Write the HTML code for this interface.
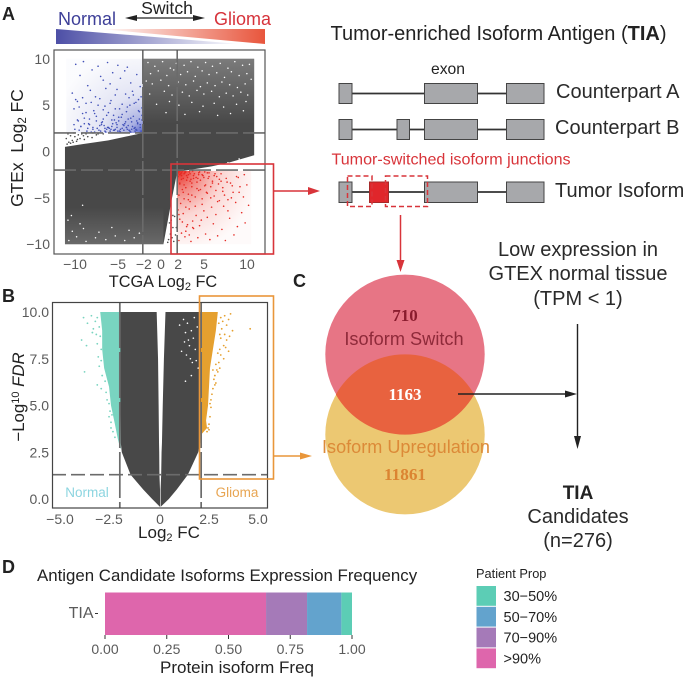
<!DOCTYPE html>
<html lang="en">
<head>
<meta charset="utf-8">
<title>Tumor-enriched Isoform Antigen figure</title>
<style>
html,body{margin:0;padding:0;background:#fff;}
body{width:685px;height:678px;overflow:hidden;}
svg{display:block;font-family:"Liberation Sans",sans-serif;}
.tick{font-size:14px;fill:#5a5a5a;}
.tl{font-size:20px;fill:#2a2a2a;}
.panel{font-size:18px;font-weight:bold;fill:#222;}
</style>
</head>
<body>
<svg id="fig" xmlns="http://www.w3.org/2000/svg" width="685" height="678" viewBox="0 0 685 678">
<defs>
<linearGradient id="gBlue" x1="0" x2="1" y1="0" y2="0"><stop offset="0" stop-color="#4d4fa6"/><stop offset="1" stop-color="#ffffff"/></linearGradient>
<linearGradient id="gRed" x1="0" x2="1" y1="0" y2="0"><stop offset="0" stop-color="#ffffff"/><stop offset="1" stop-color="#e8553c"/></linearGradient>
<radialGradient id="washBlue" cx="1" cy="1" r="1.15"><stop offset="0" stop-color="#3f4fc4" stop-opacity=".9"/><stop offset=".14" stop-color="#4f5dc4" stop-opacity=".5"/><stop offset=".45" stop-color="#6c76c8" stop-opacity=".2"/><stop offset="1" stop-color="#8088cc" stop-opacity=".03"/></radialGradient>
<radialGradient id="washRed" cx="0" cy="0" r="1.1"><stop offset="0" stop-color="#e82a22" stop-opacity="1"/><stop offset=".25" stop-color="#ea3a30" stop-opacity=".6"/><stop offset=".55" stop-color="#ee5a50" stop-opacity=".25"/><stop offset="1" stop-color="#f08078" stop-opacity=".04"/></radialGradient>
<linearGradient id="fadeTop" x1="0" x2="0" y1="0" y2="1"><stop offset="0" stop-color="#fff" stop-opacity=".28"/><stop offset="1" stop-color="#fff" stop-opacity="0"/></linearGradient>
<linearGradient id="fadeBottom" x1="0" x2="0" y1="1" y2="0"><stop offset="0" stop-color="#fff" stop-opacity=".18"/><stop offset="1" stop-color="#fff" stop-opacity="0"/></linearGradient>
</defs>

<!-- Panel A header -->
<text class="panel" x="2" y="20">A</text>
<text x="58" y="25" font-size="18" fill="#3d3f98">Normal</text>
<text x="214" y="25" font-size="18" fill="#d6333b">Glioma</text>
<text x="167" y="14" font-size="17.6" fill="#222" text-anchor="middle">Switch</text>
<g>
<line x1="130" y1="18" x2="200" y2="18" stroke="#222" stroke-width="1.2"/>
<polygon points="125,18 137,15 137,21" fill="#222"/>
<polygon points="205,18 193,15 193,21" fill="#222"/>
</g>
<polygon points="56,29 56,44 240,44" fill="url(#gBlue)"/>
<polygon points="265,29 265,44 100,29" fill="url(#gRed)"/>

<g id="panelA"></g>
<text class="panel" x="2" y="302">B</text>
<g id="panelB"></g>

<text x="163" y="287" font-size="16.3" fill="#222" text-anchor="middle">TCGA Log<tspan font-size="11" dy="3">2</tspan><tspan dy="-3"> FC</tspan></text>
<text transform="translate(23,148) rotate(-90)" font-size="17.4" fill="#222" text-anchor="middle">GTEx <tspan dx="5">Log</tspan><tspan font-size="11.5" dy="3">2</tspan><tspan dy="-3"> FC</tspan></text>
<text x="169" y="538" font-size="17" fill="#222" text-anchor="middle">Log<tspan font-size="11" dy="3">2</tspan><tspan dy="-3"> FC</tspan></text>
<text transform="translate(24,397) rotate(-90)" font-size="16.8" fill="#222" text-anchor="middle">−Log<tspan font-size="11" dy="-5">10</tspan><tspan dy="5"> </tspan><tspan font-style="italic">FDR</tspan></text>

<!-- Connectors from plots -->
<rect x="171" y="164" width="102.5" height="90" fill="none" stroke="#d8343a" stroke-width="1.6"/>
<g>
<line x1="274" y1="191" x2="310" y2="191" stroke="#d8343a" stroke-width="1.5"/>
<polygon points="320,191 308,187 308,195" fill="#d8343a"/>
</g>
<rect x="199.5" y="296" width="74" height="183" fill="none" stroke="#e9963a" stroke-width="1.6"/>
<g>
<line x1="273" y1="456" x2="302" y2="456" stroke="#e9963a" stroke-width="1.5"/>
<polygon points="312,456 300,452.5 300,459.5" fill="#e9963a"/>
</g>

<!-- Isoform diagram -->
<text x="498.5" y="40" font-size="20" fill="#222" text-anchor="middle">Tumor-enriched Isoform Antigen (<tspan font-weight="bold">TIA</tspan>)</text>
<text x="448" y="74" font-size="15.7" fill="#222" text-anchor="middle">exon</text>
<g fill="#a7a8ab" stroke="#444" stroke-width="1">
<line x1="352" y1="93.5" x2="506" y2="93.5" stroke="#333" stroke-width="1.8"/>
<rect x="339" y="83.5" width="13" height="20"/><rect x="424.5" y="83.5" width="53" height="20"/><rect x="506.5" y="83.5" width="37.5" height="20"/>
</g>
<g fill="#a7a8ab" stroke="#444" stroke-width="1">
<line x1="352" y1="129.5" x2="506" y2="129.5" stroke="#333" stroke-width="1.8"/>
<rect x="339" y="119.5" width="13" height="20"/><rect x="397" y="119.5" width="12.5" height="20"/><rect x="424.5" y="119.5" width="53" height="20"/><rect x="506.5" y="119.5" width="37.5" height="20"/>
</g>
<g fill="#a7a8ab" stroke="#444" stroke-width="1">
<line x1="352" y1="192" x2="506" y2="192" stroke="#333" stroke-width="1.8"/>
<rect x="339" y="182" width="13" height="20.5"/><rect x="424.5" y="182" width="53" height="20.5"/><rect x="506.5" y="182" width="37.5" height="20.5"/>
<rect x="369.5" y="182" width="19" height="20.5" fill="#e0262b" stroke="#a52a2a"/>
</g>
<g fill="none" stroke="#d8343a" stroke-width="1.5" stroke-dasharray="5,3">
<rect x="347.5" y="176" width="24.5" height="30.5"/>
<rect x="385.5" y="176" width="42" height="30.5"/>
</g>
<text x="331.5" y="164.5" font-size="16.1" fill="#d8343a">Tumor-switched isoform junctions</text>
<text x="556" y="98" class="tl">Counterpart A</text>
<text x="555" y="134" class="tl">Counterpart B</text>
<text x="555" y="197" class="tl">Tumor Isoform</text>
<g>
<line x1="400.5" y1="215" x2="400.5" y2="262" stroke="#d8343a" stroke-width="1.5"/>
<polygon points="400.5,272 396.5,260 404.5,260" fill="#d8343a"/>
</g>

<!-- Panel C venn -->
<text class="panel" x="293" y="287">C</text>
<g>
<circle cx="405" cy="434.7" r="79.7" fill="#ecc872"/>
<circle cx="405" cy="354.3" r="79.7" fill="#e77585"/>
<path d="M335.8 394.5 A79.7 79.7 0 0 1 474.2 394.5 A79.7 79.7 0 0 1 335.8 394.5 Z" fill="#e8623f"/>
</g>
<text x="405" y="321" font-family="Liberation Serif" font-weight="bold" font-size="17" fill="#8a1c2e" text-anchor="middle">710</text>
<text x="404" y="345" font-size="18.2" fill="#8f2a3a" text-anchor="middle">Isoform Switch</text>
<text x="405" y="400" font-family="Liberation Serif" font-weight="bold" font-size="17" fill="#fff" text-anchor="middle">1163</text>
<text x="406" y="453" font-size="18.1" fill="#dc8a38" text-anchor="middle">Isoform Upregulation</text>
<text x="405" y="480" font-family="Liberation Serif" font-weight="bold" font-size="17.2" fill="#db8432" text-anchor="middle">11861</text>

<!-- Right flow -->
<text x="578" y="256" class="tl" text-anchor="middle">Low expression in</text>
<text x="578" y="280" class="tl" text-anchor="middle">GTEX normal tissue</text>
<text x="578" y="305" class="tl" text-anchor="middle">(TPM &lt; 1)</text>
<g>
<line x1="458" y1="394" x2="572" y2="394" stroke="#222" stroke-width="1.4"/>
<polygon points="577,394 565,390.5 565,397.5" fill="#222"/>
<line x1="577.5" y1="324" x2="577.5" y2="440" stroke="#222" stroke-width="1.4"/>
<polygon points="577.5,449 574,436 581,436" fill="#222"/>
</g>
<text x="578" y="499" font-size="19" font-weight="bold" fill="#222" text-anchor="middle">TIA</text>
<text x="578" y="523" class="tl" text-anchor="middle">Candidates</text>
<text x="578" y="547" class="tl" text-anchor="middle">(n=276)</text>

<!-- Panel D -->
<text class="panel" x="2" y="573">D</text>
<text x="37" y="581" font-size="16.85" fill="#222">Antigen Candidate Isoforms Expression Frequency</text>
<g id="panelD"></g>
<text x="93.5" y="618" font-size="16" fill="#5a5a5a" text-anchor="end">TIA</text>
<text x="237" y="673" font-size="17" fill="#222" text-anchor="middle">Protein isoform Freq</text>
<text x="476" y="578" font-size="12.8" fill="#222">Patient Prop</text>
<g id="legend"></g>
</svg>

<script>
// Panel A values
const aTicksX = [-10, -5, -2, 0, 2, 5, 10];
const aTicksY = [10, 5, 0, -5, -10];
const aCutoffs = [-2, 2];
const bandX = [-11.05, -9, -6, -4, -2.01, -2, 0, 0.4, 1.0, 1.4, 2, 4, 6, 8, 10.95];
const bandTop = [0.5, 0.8, 1.2, 1.6, 2.0, 10, 10, 10, 10, 10, 10, 10, 10, 10, 10];
const bandBottom = [-10, -10, -10, -10, -10, -10, -10, -10, -7, -5, -2.2, -1.9, -1.6, -1.2, -0.4];
const blueX = [-9.8,-9.3,-8.9,-8.4,-7.9,-7.2,-6.6,-6.1,-5.5,-4.9,-10.2,-9.6,-8.1,-7.5,-6.9,-6.3,-5.8,-5.2,-4.6,-4.1,-10.0,-9.0,-8.6,-7.7,-7.0,-6.4,-5.7,-5.0,-4.4,-3.8,-9.5,-8.8,-8.2,-7.4,-6.7,-6.0,-5.4,-4.7,-4.0,-3.4,-9.9,-9.2,-8.5,-7.8,-7.1,-6.5,-5.9,-5.3,-4.5,-3.6,-8.3,-7.6,-6.8,-6.2,-5.6,-5.1,-4.3,-3.9,-3.2,-2.7,-7.3,-6.6,-5.8,-5.2,-4.8,-4.2,-3.7,-3.1,-2.8,-2.3,-6.9,-6.1,-5.5,-4.9,-4.4,-3.8,-3.3,-2.9,-2.5,-2.2,-6.3,-5.7,-5.0,-4.6,-4.1,-3.5,-3.0,-2.6,-2.4,-2.1,-9.4,-8.0,-6.4,-5.3,-4.7,-3.9,-3.4,-2.7,-2.3,-2.1,-2.2,-2.4,-2.6,-2.8,-3.0,-3.2,-3.4,-3.6,-3.8,-4.0,-2.1,-2.3,-2.5,-2.7,-2.9,-3.1,-3.3,-3.5,-3.7,-3.9,-4.2,-4.4,-4.6,-4.8,-5.0,-5.2,-5.4,-5.6,-5.8,-6.0,-6.2,-6.4,-6.6,-6.8,-7.0,-7.2,-7.4,-7.6,-7.8,-8.0,-8.2,-8.4,-8.6,-8.8,-9.0,-9.2,-9.4,-9.6,-9.8,-10.0];
const blueY = [9.4,8.2,9.7,7.1,8.8,9.2,7.7,9.6,8.5,9.3,6.3,5.4,6.6,5.9,8.1,6.8,7.3,6.1,7.9,8.7,4.6,4.1,5.2,4.4,5.7,4.9,5.5,6.7,5.1,9.1,3.3,3.6,2.9,3.8,3.2,4.2,3.9,4.6,6.2,7.4,2.4,2.7,2.2,2.6,2.3,2.8,2.5,3.4,3.7,5.8,3.0,2.1,2.9,2.4,2.7,3.1,2.9,4.3,6.5,8.3,2.5,3.5,2.2,2.4,3.3,2.3,2.8,3.8,5.3,7.0,2.2,2.6,3.0,2.2,2.5,2.4,3.2,2.6,4.4,5.9,2.1,2.4,2.6,2.1,3.0,2.2,2.5,3.0,3.5,4.7,2.3,2.1,2.2,2.3,2.2,2.6,2.1,2.3,2.9,3.4,2.2,4.3,3.1,2.4,5.2,2.7,3.6,2.3,4.8,3.2,3.9,2.6,5.6,3.3,2.2,6.1,2.4,5.0,3.5,2.6,2.8,4.0,2.4,3.7,2.9,4.6,2.3,3.4,5.2,2.6,3.9,2.5,4.5,3.1,2.8,5.0,3.3,4.1,2.4,5.3,3.5,2.5,4.2,3.0,5.8,2.7,4.8,3.4,5.6,2.9];
const redX = [2.2,2.5,2.9,3.2,3.6,3.9,4.4,4.8,5.3,5.8,6.2,6.7,7.2,7.6,8.1,8.6,9.0,9.5,9.9,10.3,2.3,2.7,3.1,3.4,3.8,4.2,4.6,5.1,5.5,6.0,6.5,6.9,7.4,7.9,8.3,8.8,9.2,9.7,10.1,2.1,2.4,2.8,3.0,3.5,3.7,4.1,4.5,4.9,5.4,5.9,6.3,6.8,7.3,7.8,8.4,9.1,2.2,2.6,3.0,3.3,3.7,4.3,4.7,5.2,5.6,6.1,6.6,7.1,2.3,2.5,2.8,3.2,3.5,3.9,4.4,4.9,5.7,2.1,2.4,2.7,2.9,3.1,3.4,3.6,4.0,4.2,4.6,5.0,5.5,6.4,2.2,2.3,2.5,2.6,2.8,3.0,3.3,3.8,4.5,5.2,2.1,2.3,2.5,2.7,2.9,3.1,3.3,3.5,3.7,3.9,4.1,4.3,4.5,4.7,4.9,5.1,5.3,5.5,5.7,5.9,6.1,6.3,6.5,6.7,6.9,7.1,7.3,7.5,7.7,7.9,8.2,8.5,8.9,9.3,9.8,2.2,2.6,3.0,3.4,3.8];
const redY = [-9.6,-8.8,-9.2,-7.9,-9.7,-8.3,-9.3,-7.4,-8.9,-9.5,-7.8,-9.1,-8.4,-9.6,-7.2,-9.0,-8.1,-6.6,-7.7,-5.8,-7.3,-6.7,-8.1,-6.2,-7.5,-6.9,-8.0,-6.4,-7.1,-6.0,-6.8,-5.3,-5.9,-6.4,-5.0,-5.5,-4.4,-4.9,-3.6,-6.3,-5.6,-5.1,-6.0,-5.4,-4.7,-5.9,-4.2,-5.1,-4.4,-3.8,-4.8,-3.5,-4.3,-3.3,-3.7,-2.8,-4.7,-4.1,-3.9,-4.6,-3.4,-4.0,-3.1,-3.7,-2.9,-3.4,-2.7,-3.2,-3.4,-3.0,-3.6,-2.8,-3.2,-2.6,-2.9,-2.5,-2.7,-2.7,-2.4,-2.9,-2.3,-2.6,-2.2,-3.0,-2.4,-2.8,-2.2,-2.6,-2.3,-2.4,-2.2,-2.5,-2.3,-2.1,-2.4,-2.2,-2.5,-2.1,-2.3,-2.2,-2.3,-3.5,-2.6,-4.4,-2.2,-3.1,-5.2,-2.4,-3.8,-2.9,-4.9,-3.3,-2.5,-4.1,-5.7,-2.8,-3.6,-4.5,-2.3,-5.0,-3.2,-2.6,-4.2,-5.4,-3.0,-2.4,-3.9,-4.7,-2.9,-5.2,-3.4,-4.4,-2.7,-3.8,-2.5,-6.8,-7.6,-8.6,-9.0,-8.2];
const speckAX = [-1.4,-0.6,0.3,1.2,1.9,2.8,3.6,4.4,5.3,6.1,7.0,7.9,8.7,9.6,10.4,-1.1,-0.2,0.8,1.6,2.4,3.2,4.1,4.9,5.7,6.6,7.5,8.3,9.2,10.1,-1.6,-0.9,0.1,1.0,2.1,3.0,3.9,4.7,5.5,6.4,7.2,8.1,9.0,9.9,10.6,-1.2,0.5,1.4,2.6,3.4,4.3,5.1,6.0,6.9,7.7,8.5,9.4,10.2,-0.4,1.1,2.2,3.7,5.0,6.3,7.4,8.9,10.0,0.7,2.9,4.6,6.7,8.2,9.7,-10.6,-9.7,-8.6,-7.5,-6.3,-5.2,-4.1,-3.0,-10.2,-8.9,-7.1,-5.6,-3.6,-2.4,-10.7,-9.3,-10.3,-9.0,-10.8,-9.6,8.8,9.6,10.2,10.6,7.9,9.2];
const speckAY = [9.6,9.2,9.7,9.0,9.5,9.3,9.7,9.1,9.6,9.2,9.5,9.0,9.7,9.3,9.4,8.4,8.7,8.2,8.8,8.3,8.6,8.1,8.7,8.3,8.5,8.0,8.6,8.2,8.4,7.6,7.3,7.7,7.1,7.5,7.2,7.6,7.0,7.4,7.1,7.5,7.2,6.9,7.3,7.8,6.2,6.5,6.1,6.4,6.0,6.6,6.2,6.5,5.9,6.3,6.0,6.4,6.1,5.1,5.4,5.0,5.3,4.9,5.2,4.8,5.1,5.4,4.2,4.0,4.3,3.9,4.1,4.4,-9.6,-9.2,-9.7,-9.3,-9.5,-9.1,-9.6,-9.3,-8.6,-8.3,-8.7,-8.2,-8.5,-8.8,-7.4,-7.8,-6.9,-5.8,1.2,1.4,-1.4,-1.0,-0.9,-1.3,-1.2,-0.8];
const grayAX = [-10.6,-10.2,-9.7,-9.3,-8.8,-8.4,-7.9,-7.4,-10.9,-10.4,-9.9,-9.1,-8.6,-7.8,-7.2,-6.6,-10.7,-10.0,-9.5,-8.9,-10.4,-10.1,-9.6,-10.8,1.3,1.5,1.2,1.7,1.0,1.4,1.8,1.1,1.6,0.9,1.9,1.5];
const grayAY = [1.0,1.2,1.1,1.4,1.3,1.6,1.5,1.8,1.4,1.7,1.6,1.9,1.9,2.0,1.9,1.9,1.9,2.0,1.8,1.7,0.9,1.0,1.3,0.8,-7.4,-8.2,-8.9,-7.0,-9.5,-9.3,-9.0,-7.7,-9.7,-9.8,-8.2,-6.9];

// Panel B values
const bTicksX = [-5, -2.5, 0, 2.5, 5];
const bTickLabelsX = ['−5.0', '−2.5', '0', '2.5', '5.0'];
const bTicksY = [10, 7.5, 5, 2.5, 0];
const bTickLabelsY = ['10.0', '7.5', '5.0', '2.5', '0.0'];
const fdrCutoff = 1.3;
const fcCutoffs = [-2.05, 2.1];
const volcanoY = [10, 7.5, 5, 3, 2.5, 1.3, 0.5, 0, -0.42];
const volcanoLeft = [-2.02, -2.02, -2.02, -2.0, -1.95, -1.5, -0.85, -0.4, 0];
const volcanoRight = [2.08, 2.08, 2.08, 2.05, 1.95, 1.42, 0.85, 0.45, 0.03];
const volcanoInnerLeft = [-0.17, -0.1, -0.07, -0.05, -0.04, -0.03, 0, 0, 0];
const volcanoInnerRight = [0.28, 0.2, 0.14, 0.1, 0.08, 0.06, 0.03, 0.03, 0.03];
const tealEdgeY = [10, 9, 8, 7, 6, 5, 4, 3.2, 2.7];
const tealEdgeX = [-3.05, -2.95, -2.95, -2.85, -2.6, -2.5, -2.3, -2.15, -2.03];
const orangeEdgeY = [10, 9, 8, 7, 6, 5, 4.2, 3.8, 3.5];
const orangeEdgeX = [2.95, 2.85, 2.7, 2.55, 2.5, 2.45, 2.35, 2.4, 2.15];
const tealX = [-3.9,-3.7,-3.5,-3.4,-3.3,-3.25,-3.2,-3.1,-4.0,-3.75,-3.45,-3.2,-3.05,-3.0,-3.85,-3.15,-3.1,-3.0,-2.95,-3.2,-3.0,-2.8,-2.75,-2.7,-2.6,-2.6,-2.55,-2.5,-2.5,-2.45,-2.4,-2.3];
const tealY = [9.7,9.4,9.8,9.1,9.5,8.8,9.7,9.2,8.5,8.2,8.9,8.3,8.7,8.0,6.8,7.6,7.1,7.4,6.6,6.1,5.9,6.3,5.7,5.3,5.1,4.4,4.7,4.1,3.8,4.5,3.6,3.3];
const orangeX = [3.6,3.5,3.4,3.3,3.2,3.15,3.1,3.05,3.0,3.7,3.55,3.4,3.3,3.25,3.1,3.05,3.5,3.35,3.25,3.1,3.0,2.95,2.9,2.85,2.8,2.8,2.75,2.7,2.7,2.65,2.6,2.6,2.55,2.55,2.5,2.5,4.6,3.05,2.95,2.85,2.4,2.45];
const orangeY = [9.9,9.6,9.3,9.8,9.5,9.1,9.7,8.8,9.4,9.0,8.7,8.5,8.8,8.2,8.6,8.0,7.9,8.1,7.5,7.7,7.3,7.8,6.9,7.2,6.6,6.1,6.4,5.9,6.9,5.6,5.3,4.9,5.1,4.4,4.0,3.7,9.1,7.0,6.8,6.2,3.6,3.8];
const speckBX = [1.0,1.2,1.3,1.4,1.5,1.6,1.7,1.75,1.8,1.9,1.1,1.35,1.55,1.65,1.45,1.25,1.85,1.95,1.6,1.3];
const speckBY = [9.3,9.6,8.9,9.4,8.2,9.0,8.6,9.7,8.0,9.2,7.9,7.7,7.5,7.3,8.5,8.4,7.4,7.0,6.6,6.3];

// Panel D values
const freqSegments = ['>90%', '70-90%', '50-70%', '30-50%'];
const freqValues = [0.652, 0.166, 0.139, 0.043];
const freqTicks = [0, 0.25, 0.5, 0.75, 1];
const freqTickLabels = ['0.00', '0.25', '0.50', '0.75', '1.00'];
const legendLabels = ['30−50%', '50−70%', '70−90%', '>90%'];

// Styling lookups
const segmentColors = ['#de66ac', '#a57ab8', '#63a3cd', '#5ccdb5'];
const legendColors = ['#5ccdb5', '#63a3cd', '#a57ab8', '#de66ac'];

const NS = 'http://www.w3.org/2000/svg';
function mk(parent, tag, attrs, text) {
  const el = document.createElementNS(NS, tag);
  for (const k in attrs) el.setAttribute(k, attrs[k]);
  if (text !== undefined) el.textContent = text;
  parent.appendChild(el);
  return el;
}
function tickText(v) { return String(v).replace('-', '−'); }

// Scales
const ax = v => 160 + 8.6 * v;
const ay = v => 151.5 - 9.27 * v;
const bx = v => 160 + 19.6 * v;
const by = v => 499 - 18.7 * v;
const dx = v => 105 + 247 * v;

function dots(parent, xs, ys, sx, sy, r, color, name) {
  for (let i = 0; i < Math.min(xs.length, ys.length); i++) {
    const c = mk(parent, 'circle', {cx: sx(xs[i]), cy: sy(ys[i]), r: r, fill: color});
    
    
  }
}

/* Panel A */
const A = document.getElementById('panelA');
let upper = bandX.map((x, i) => ax(x) + ',' + ay(bandTop[i]));
let lower = bandX.map((x, i) => ax(x) + ',' + ay(bandBottom[i])).reverse();
const band = mk(A, 'polygon', {points: upper.concat(lower).join(' '), fill: '#484848'});


const fadeTop = mk(A, 'rect', {x: ax(-2), y: ay(10), width: ax(10.95) - ax(-2), height: ay(3) - ay(10), fill: 'url(#fadeTop)'});


const fadeBottom = mk(A, 'rect', {x: ax(-11.05), y: ay(-6), width: ax(0.4) - ax(-11.05), height: ay(-10) - ay(-6), fill: 'url(#fadeBottom)'});


const blueWash = mk(A, 'rect', {x: ax(-10.9), y: ay(10), width: ax(-2) - ax(-10.9), height: ay(2) - ay(10), fill: 'url(#washBlue)'});


const redWash = mk(A, 'rect', {x: ax(2), y: ay(-2.1), width: ax(10.6) - ax(2), height: ay(-10) - ay(-2.1), fill: 'url(#washRed)'});


dots(A, speckAX, speckAY, ax, ay, 0.75, '#fff', 'scatter-gap');
dots(A, grayAX, grayAY, ax, ay, 0.8, '#484848', 'scatter-point');
dots(A, blueX, blueY, ax, ay, 0.8, '#4150b8', 'normal-switch-point');
dots(A, redX, redY, ax, ay, 0.8, '#e62a24', 'glioma-switch-point');
aCutoffs.forEach(v => {
  const l1 = mk(A, 'line', {x1: ax(v), x2: ax(v), y1: 50, y2: 254, stroke: '#6b6b6b', 'stroke-width': 1.6, 'stroke-dasharray': '34,3'});
  
  
  const l2 = mk(A, 'line', {x1: 54, x2: 265, y1: ay(v), y2: ay(v), stroke: '#6b6b6b', 'stroke-width': 1.6, 'stroke-dasharray': '22,5'});
  
  
});
const aBox = mk(A, 'rect', {x: 54, y: 50, width: 211, height: 204, fill: 'none', stroke: '#555', 'stroke-width': 1.2});


aTicksX.forEach(v => {
  const t = mk(A, 'text', {x: ax(v) + 1, y: 269, 'text-anchor': 'middle', class: 'tick'}, tickText(v));
  
  
});
aTicksY.forEach(v => {
  const t = mk(A, 'text', {x: 50, y: ay(v) + 5, 'text-anchor': 'end', class: 'tick'}, tickText(v));
  
  
});

/* Panel B */
const B = document.getElementById('panelB');
function edgePoly(xs, ys, innerXs, innerYs, color, name) {
  const pts = xs.map((x, i) => bx(x) + ',' + by(ys[i]));
  const back = innerXs.map((x, i) => bx(x) + ',' + by(innerYs[i])).reverse();
  const p = mk(B, 'polygon', {points: pts.concat(back).join(' '), fill: color});
  
  
}
edgePoly(tealEdgeX, tealEdgeY, tealEdgeX.map(() => -2.0), tealEdgeY, '#79d4c0', 'normal-significant-points');
edgePoly(orangeEdgeX, orangeEdgeY, orangeEdgeX.map(() => 2.05), orangeEdgeY, '#e5a02f', 'glioma-significant-points');
edgePoly(volcanoLeft, volcanoY, volcanoInnerLeft, volcanoY, '#484848', 'volcano-left-points');
edgePoly(volcanoRight, volcanoY, volcanoInnerRight, volcanoY, '#484848', 'volcano-right-points');
dots(B, tealX, tealY, bx, by, 0.9, '#79d4c0', 'normal-significant-point');
dots(B, orangeX, orangeY, bx, by, 0.9, '#e5a02f', 'glioma-significant-point');
dots(B, speckBX, speckBY, bx, by, 0.8, '#fff', 'volcano-gap');
const fdrLine = mk(B, 'line', {x1: 52, x2: 268, y1: by(fdrCutoff), y2: by(fdrCutoff), stroke: '#6b6b6b', 'stroke-width': 1.7, 'stroke-dasharray': '14,5'});


fcCutoffs.forEach(v => {
  const l = mk(B, 'line', {x1: bx(v), x2: bx(v), y1: 302, y2: 508, stroke: '#6b6b6b', 'stroke-width': 1.7, 'stroke-dasharray': '46,4'});
  
  
});
const bBox = mk(B, 'rect', {x: 52.5, y: 302.5, width: 215, height: 205.5, fill: 'none', stroke: '#444', 'stroke-width': 1.2});


bTicksX.forEach((v, i) => {
  const t = mk(B, 'text', {x: bx(v) - (v < 0 ? 2 : 0), y: 524, 'text-anchor': 'middle', class: 'tick'}, bTickLabelsX[i]);
  
  
});
bTicksY.forEach((v, i) => {
  const t = mk(B, 'text', {x: 49, y: by(v) + 5, 'text-anchor': 'end', class: 'tick'}, bTickLabelsY[i]);
  
  
});
const nl = mk(B, 'text', {x: 87, y: 497, 'text-anchor': 'middle', 'font-size': 13.5, fill: '#8cd5e0'}, 'Normal');


const gl = mk(B, 'text', {x: 237, y: 497, 'text-anchor': 'middle', 'font-size': 13.5, fill: '#e8a552'}, 'Glioma');



/* Panel D */
const D = document.getElementById('panelD');
let cum = 0;
freqValues.forEach((v, i) => {
  const r = mk(D, 'rect', {x: dx(cum), y: 592.5, width: dx(cum + v) - dx(cum), height: 42.5, fill: segmentColors[i]});
  
  
  cum += v;
});
freqTicks.forEach((v, i) => {
  const m = mk(D, 'line', {x1: dx(v), x2: dx(v), y1: 635, y2: 639, stroke: '#333', 'stroke-width': 1});
  
  
  const t = mk(D, 'text', {x: dx(v), y: 654, 'text-anchor': 'middle', class: 'tick'}, freqTickLabels[i]);
  
  
});
const tiaTick = mk(D, 'line', {x1: 95, x2: 98, y1: 613.5, y2: 613.5, stroke: '#333', 'stroke-width': 1});



const L = document.getElementById('legend');
legendLabels.forEach((label, i) => {
  const top = 586 + i * 20.8;
  const s = mk(L, 'rect', {x: 476.5, y: top, width: 19.5, height: 19.8, fill: legendColors[i]});
  
  
  const t = mk(L, 'text', {x: 503.5, y: top + 15, 'font-size': 14.5, fill: '#222'}, label);
  
  
});
</script>
</body>
</html>
